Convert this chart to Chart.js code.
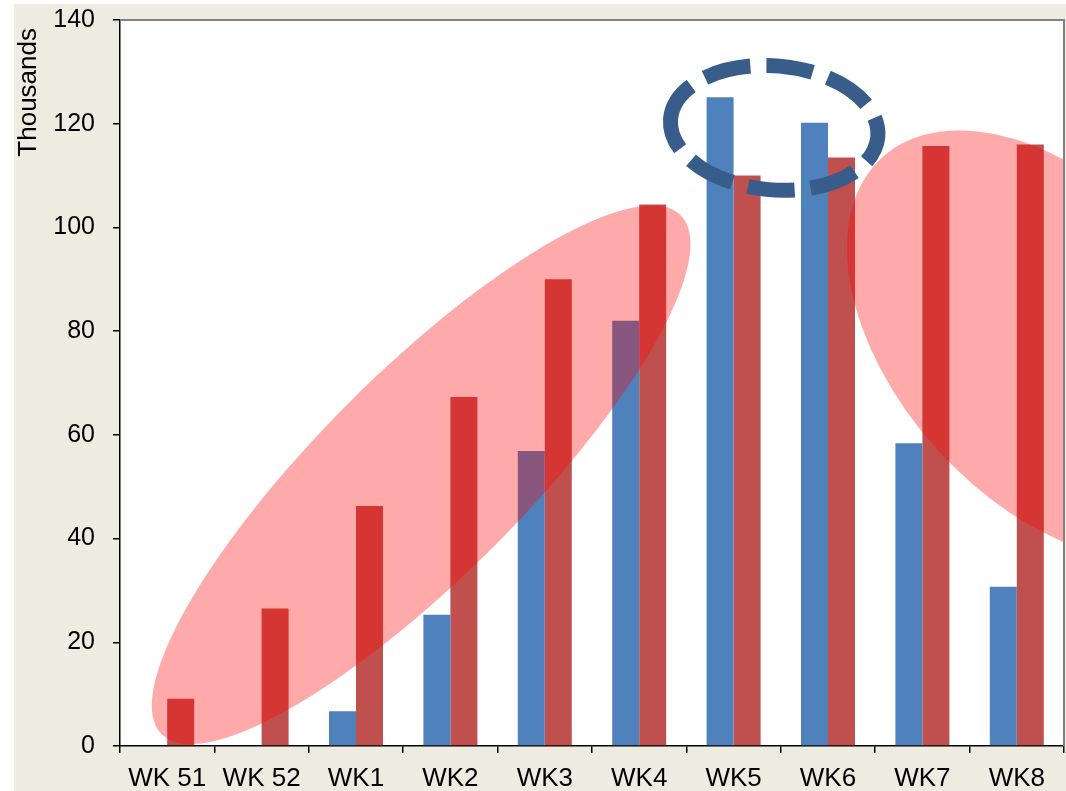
<!DOCTYPE html>
<html>
<head>
<meta charset="utf-8">
<title>Weekly volumes</title>
<script src="https://cdn.jsdelivr.net/npm/chart.js@4.4.1/dist/chart.umd.min.js"></script>
<style>
    html, body { margin: 0; padding: 0; background: #ffffff; }
    #frame {
        position: absolute;
        left: 14px;
        top: 4px;
        width: 1052px;
        height: 787px;
        background: #EEECE1;
    }
</style>
</head>
<body>
<div id="frame">
    <canvas id="weekChart" width="1052" height="787"></canvas>
</div>
<script>
// chart data (thousands)
const weeks = ['WK 51', 'WK 52', 'WK1', 'WK2', 'WK3', 'WK4', 'WK5', 'WK6', 'WK7', 'WK8'];
const blueValues = [0, 0, 6.7, 25.3, 56.9, 82.0, 125.1, 120.2, 58.4, 30.7];
const redValues = [9.1, 26.5, 46.3, 67.3, 90.0, 104.4, 110.0, 113.5, 115.7, 116.0];
const yTicks = [0, 20, 40, 60, 80, 100, 120, 140];
const yTitle = 'Thousands';

// highlight shapes drawn over the bars, centred in axis units (category index, value)
const highlights = [
    { x: 2.69, y: 52.3, rx: 367, ry: 102, angle: -45, fill: 'rgba(255, 0, 0, 0.333)' },
    { x: 9.37, y: 77.3, rx: 253, ry: 155, angle: 48, fill: 'rgba(255, 0, 0, 0.333)' }
];
const dashedRing = { x: 6.43, y: 119.2, rx: 104, ry: 62, angle: 5, color: '#385D8A', width: 15 };

const fontFamily = '"Liberation Sans", Arial, sans-serif';

const plotFrame = {
    id: 'plotFrame',
    beforeDraw(chart) {
        const { ctx, chartArea } = chart;
        ctx.save();
        ctx.fillStyle = '#ffffff';
        ctx.fillRect(chartArea.left, chartArea.top, chartArea.right - chartArea.left, chartArea.bottom - chartArea.top);
        ctx.restore();
    },
    afterDatasetsDraw(chart) {
        const { ctx, chartArea, scales } = chart;
        ctx.save();
        ctx.beginPath();
        ctx.rect(chartArea.left, chartArea.top, chartArea.right - chartArea.left, chartArea.bottom - chartArea.top);
        ctx.clip();

        highlights.forEach(h => {
            const cx = scales.x.getPixelForValue(h.x);
            const cy = scales.y.getPixelForValue(h.y);
            ctx.beginPath();
            ctx.ellipse(cx, cy, h.rx, h.ry, h.angle * Math.PI / 180, 0, Math.PI * 2);
            ctx.fillStyle = h.fill;
            ctx.fill();
        });

        // dashed ring starts at its left end, like the original shape outline
        const rx = scales.x.getPixelForValue(dashedRing.x);
        const ry = scales.y.getPixelForValue(dashedRing.y);
        ctx.beginPath();
        ctx.ellipse(rx, ry, dashedRing.rx, dashedRing.ry, dashedRing.angle * Math.PI / 180, Math.PI, Math.PI * 3);
        ctx.strokeStyle = dashedRing.color;
        ctx.lineWidth = dashedRing.width;
        ctx.setLineDash([47, 16]);
        ctx.lineDashOffset = 7;
        ctx.stroke();
        ctx.restore();
    },
    afterDraw(chart) {
        const { ctx, chartArea } = chart;
        ctx.save();
        // grey frame on the top and right of the plot area
        ctx.strokeStyle = '#808080';
        ctx.lineWidth = 2;
        ctx.beginPath();
        ctx.moveTo(chartArea.left, chartArea.top);
        ctx.lineTo(chartArea.right, chartArea.top);
        ctx.lineTo(chartArea.right, chartArea.bottom);
        ctx.stroke();

        // axis title sits at the top of the value axis
        ctx.translate(15, chartArea.top + 8);
        ctx.rotate(-Math.PI / 2);
        ctx.font = '26px ' + fontFamily;
        ctx.fillStyle = '#000000';
        ctx.textAlign = 'right';
        ctx.textBaseline = 'middle';
        ctx.fillText(yTitle, 0, 0);
        ctx.restore();
    }
};

const ctx = document.getElementById('weekChart').getContext('2d');
const weekChart = new Chart(ctx, {
    type: 'bar',
    data: {
        labels: weeks,
        datasets: [
            {
                label: 'Blue',
                data: blueValues,
                backgroundColor: '#4F81BD',
                borderWidth: 0
            },
            {
                label: 'Red',
                data: redValues,
                backgroundColor: '#C0504D',
                borderWidth: 0
            }
        ]
    },
    options: {
        responsive: false,
        animation: false,
        categoryPercentage: 0.572,
        barPercentage: 1,
        layout: { padding: { top: 0, right: 2, left: 0, bottom: 0 } },
        plugins: {
            legend: { display: false },
            tooltip: { enabled: false }
        },
        scales: {
            x: {
                grid: {
                    display: true,
                    offset: true,
                    drawOnChartArea: false,
                    drawTicks: true,
                    tickLength: 7,
                    color: '#000000',
                    lineWidth: 1.5
                },
                border: { display: true, color: '#000000', width: 1.5 },
                ticks: {
                    color: '#000000',
                    padding: 10,
                    font: { family: fontFamily, size: 26 }
                },
                afterFit(scale) { scale.height = 45; }
            },
            y: {
                min: 0,
                max: 140,
                afterBuildTicks(scale) {
                    scale.ticks = yTicks.map(v => ({ value: v }));
                },
                grid: {
                    display: true,
                    drawOnChartArea: false,
                    drawTicks: true,
                    tickLength: 7,
                    color: '#000000',
                    lineWidth: 1.5
                },
                border: { display: true, color: '#000000', width: 1.5 },
                ticks: {
                    color: '#000000',
                    padding: 18,
                    font: { family: fontFamily, size: 25 }
                },
                afterFit(scale) {
                    scale.width = 106;
                    scale.paddingTop = 16;
                }
            }
        }
    },
    plugins: [plotFrame]
});
</script>
</body>
</html>
